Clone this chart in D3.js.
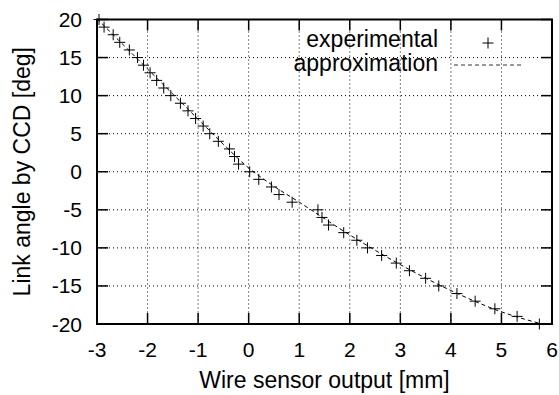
<!DOCTYPE html>
<meta charset="utf-8">
<script src="https://d3js.org/d3.v7.min.js"></script>
<style>
  body { margin: 0px; background: #fff; }
  text { font-family: "Liberation Sans", Arial, sans-serif; fill: #000; }
  .tick-label { font-size: 21px; }
  .axis-label { font-size: 23px; }
  .legend { font-size: 23px; }
</style>
<div id="chart"></div>
<script>

// measured points: wire sensor output [mm] vs CCD angle [deg]
const expX = [-2.96, -2.86, -2.68, -2.55, -2.36, -2.2, -2.08, -1.95, -1.82, -1.68,
              -1.54, -1.35, -1.2, -1.05, -0.9, -0.77, -0.6, -0.38, -0.28, -0.2,
              0.02, 0.2, 0.45, 0.6, 0.86, 1.37, 1.45, 1.58, 1.88, 2.14,
              2.35, 2.63, 2.92, 3.18, 3.5, 3.76, 4.12, 4.48, 4.87, 5.31, 5.75];
const expY = [20, 19, 18, 17, 16, 15, 14, 13, 12, 11,
              10, 9, 8, 7, 6, 5, 4, 3, 2, 1,
              0, -1, -2, -3, -4, -5, -6, -7, -8, -9,
              -10, -11, -12, -13, -14, -15, -16, -17, -18, -19, -20];

// approximation curve
const approxX = [-3, -2, -1, -0.5, 0, 0.5, 1, 2, 3, 4, 5, 5.8];
const approxY = [20.1, 13.5, 6.9, 3.6, 0.5, -1.9, -4.0, -8.3, -12.2, -15.6, -18.4, -20];

const xTicks = [-3, -2, -1, 0, 1, 2, 3, 4, 5, 6];
const yTicks = [-20, -15, -10, -5, 0, 5, 10, 15, 20];

var margin = {top: 19.5, right: 7, bottom: 71, left: 97},
    width = 559 - margin.left - margin.right,
    height = 395 - margin.top - margin.bottom;

var svg = d3.select("#chart").append("svg")
    .attr("width", 559)
    .attr("height", 395);

var g = svg.append("g")
    .attr("transform", "translate(" + margin.left + "," + margin.top + ")");

var x = d3.scaleLinear().domain([-3, 6]).range([0, width]);
var y = d3.scaleLinear().domain([-20, 20]).range([height, 0]);

// dotted grid
g.selectAll(".vgrid")
  .data(xTicks.slice(1, -1))
  .enter().append("line")
    .attr("x1", d => x(d)).attr("x2", d => x(d))
    .attr("y1", 0).attr("y2", height)
    .attr("stroke", "#000").attr("stroke-width", 1)
    .attr("stroke-dasharray", "1,3");
g.selectAll(".hgrid")
  .data(yTicks.slice(1, -1))
  .enter().append("line")
    .attr("y1", d => y(d)).attr("y2", d => y(d))
    .attr("x1", 0).attr("x2", width)
    .attr("stroke", "#000").attr("stroke-width", 1)
    .attr("stroke-dasharray", "1,3");

// ticks (inward, mirrored)
var tl = 11;
xTicks.forEach(function(t) {
  g.append("line").attr("x1", x(t)).attr("x2", x(t)).attr("y1", height).attr("y2", height - tl)
    .attr("stroke", "#000").attr("stroke-width", 1.5);
  g.append("line").attr("x1", x(t)).attr("x2", x(t)).attr("y1", 0).attr("y2", tl)
    .attr("stroke", "#000").attr("stroke-width", 1.5);
  g.append("text").attr("class", "tick-label")
    .attr("x", x(t)).attr("y", height + 33)
    .attr("text-anchor", "middle").text(t);
});
yTicks.forEach(function(t) {
  g.append("line").attr("x1", 0).attr("x2", tl).attr("y1", y(t)).attr("y2", y(t))
    .attr("stroke", "#000").attr("stroke-width", 1.5);
  g.append("line").attr("x1", width).attr("x2", width - tl).attr("y1", y(t)).attr("y2", y(t))
    .attr("stroke", "#000").attr("stroke-width", 1.5);
  g.append("text").attr("class", "tick-label")
    .attr("x", -15).attr("y", y(t) + 7.5)
    .attr("text-anchor", "end").text(t);
});

// frame
g.append("rect").attr("x", 0).attr("y", 0).attr("width", width).attr("height", height)
  .attr("fill", "none").attr("stroke", "#000").attr("stroke-width", 2);

// approximation line
var line = d3.line()
  .x(function(d, i) { return x(approxX[i]); })
  .y(function(d, i) { return y(approxY[i]); })
  .curve(d3.curveMonotoneX);
g.append("path").datum(approxX)
  .attr("d", line)
  .attr("fill", "none").attr("stroke", "#000").attr("stroke-width", 1)
  .attr("stroke-dasharray", "4,3");

// experimental markers
var s = 5.5;
g.selectAll(".pt").data(expX).enter().append("path")
  .attr("d", function(d, i) {
    var px = x(d), py = y(expY[i]);
    return "M" + (px - s) + "," + py + "H" + (px + s) + "M" + px + "," + (py - s) + "V" + (py + s);
  })
  .attr("stroke", "#000").attr("stroke-width", 1).attr("fill", "none");

// legend
svg.append("text").attr("class", "legend").attr("x", 438).attr("y", 47)
  .attr("text-anchor", "end").text("experimental");
svg.append("path").attr("d", "M482.5,43H493.5M488,37.5V48.5")
  .attr("stroke", "#000").attr("stroke-width", 1);
svg.append("text").attr("class", "legend").attr("x", 438).attr("y", 71)
  .attr("text-anchor", "end").text("approximation");
svg.append("line").attr("x1", 454).attr("x2", 522).attr("y1", 65).attr("y2", 65)
  .attr("stroke", "#333").attr("stroke-width", 1).attr("stroke-dasharray", "4,3");

// axis labels
svg.append("text").attr("class", "axis-label")
  .attr("x", margin.left + width / 2).attr("y", 388)
  .attr("text-anchor", "middle").text("Wire sensor output [mm]");
svg.append("text").attr("class", "axis-label")
  .attr("transform", "translate(30," + (margin.top + height / 2) + ") rotate(-90)")
  .attr("text-anchor", "middle").text("Link angle by CCD [deg]");

</script>
